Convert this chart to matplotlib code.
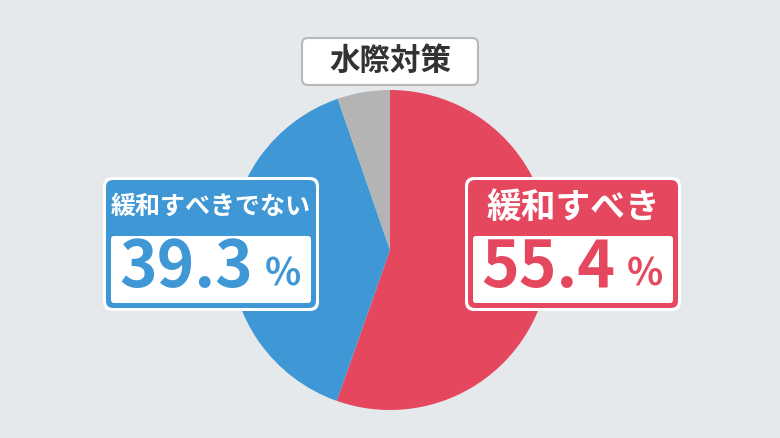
import matplotlib
matplotlib.use("Agg")
import matplotlib.pyplot as plt
from matplotlib.patches import FancyBboxPatch

plt.rcParams['font.family'] = ['Noto Sans CJK JP', 'DejaVu Sans']

title = '水際対策'
labels = ['緩和すべき', '緩和すべきでない', 'その他']
values = [55.4, 39.3, 5.3]
colors = ['#e5475f', '#3f98d5', '#b4b4b4']

H = 438
fig = plt.figure(figsize=(7.8, 4.38), dpi=100)
fig.patch.set_facecolor('#e6e9eb')
ax = fig.add_axes([0, 0, 1, 1])

ax.pie(values, colors=colors, startangle=90, counterclock=False,
       center=(390, H - 250), radius=160, frame=True,
       wedgeprops=dict(linewidth=0))
ax.set_xlim(0, 780)
ax.set_ylim(0, H)
ax.set_aspect('auto')
ax.axis('off')


def rbox(x0, y0, x1, y1, fc, ec='none', lw=0, pad=6, z=3):
    p = FancyBboxPatch((x0, H - y1), x1 - x0, y1 - y0,
                       boxstyle='round,pad=0,rounding_size=%d' % pad,
                       fc=fc, ec=ec, lw=lw, zorder=z)
    ax.add_patch(p)


# title box
rbox(302, 38, 478, 85, 'white', ec='#b8b8b8', lw=1.5)
ax.text(390, H - 61, title, ha='center', va='center', fontsize=22,
        fontweight='bold', color='#333333', zorder=5)


def label_box(x0, x1, color, name, val, name_size):
    rbox(x0, 177, x1, 311, 'white', pad=9)
    rbox(x0 + 3, 180, x1 - 3, 308, color, pad=7, z=4)
    rbox(x0 + 8, 236, x1 - 8, 303, 'white', pad=3, z=5)
    ax.text((x0 + x1) / 2, H - 207, name, ha='center', va='center',
            fontsize=name_size, fontweight='bold', color='white', zorder=6)
    ax.text(x0 + 16, H - 268, '%.1f' % val, ha='left', va='center',
            fontsize=46, fontweight='bold', color=color, zorder=6)
    ax.text(x0 + 162, H - 274, '%', ha='left', va='center', fontsize=27,
            fontweight='bold', color=color, zorder=6)


label_box(465, 681, colors[0], labels[0], values[0], 25)
label_box(103, 319, colors[1], labels[1], values[1], 18)

fig.savefig('out.png', dpi=100, facecolor=fig.get_facecolor())
